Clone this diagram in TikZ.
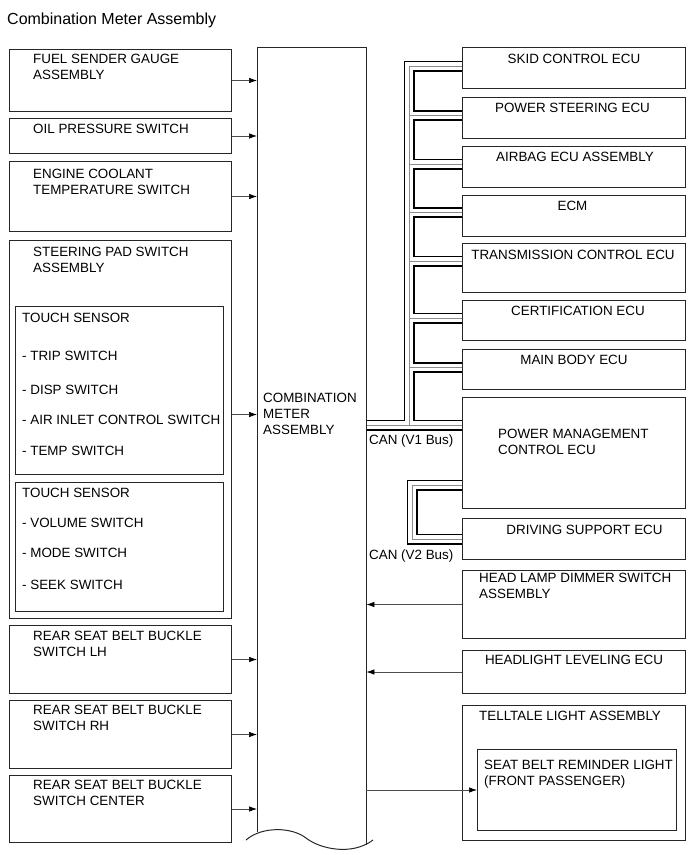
\documentclass[tikz,border=0pt]{standalone}
\usepackage{fontspec}
\setmainfont{Liberation Sans}
\usetikzlibrary{arrows.meta}
\begin{document}
\begin{tikzpicture}[x=1pt,y=-1pt,
  box/.style={draw=black!85, line width=1pt, inner sep=0pt, anchor=north west},
  lbl/.style={inner sep=0pt, align=left, font=\fontsize{13.4}{16}\selectfont, anchor=base west},
  clbl/.style={inner sep=0pt, font=\fontsize{13.4}{16}\selectfont, anchor=base},
  arr/.style={draw=black!70, line width=0.7pt, -{Latex[length=8pt,width=5.5pt,color=black]}},
  bus/.style={draw=black, line width=11pt, line join=miter,
    postaction={draw=white, line width=7.4pt},
    postaction={draw=black!45, line width=0.6pt}},
  ]
\useasboundingbox (0,0) rectangle (691,855);

\node[inner sep=0pt, anchor=base west, font=\fontsize{16}{19}\selectfont] (title) at (7,24.5) {Combination Meter Assembly};

% left boxes
\node[box, minimum width=222, minimum height=62] (fuel) at (9,49) {};
\node[box, minimum width=222, minimum height=35] (oil) at (9,118) {};
\node[box, minimum width=222, minimum height=70] (eng) at (9,161) {};
\node[box, minimum width=222, minimum height=378] (steer) at (9,240) {};
\node[box, minimum width=208, minimum height=168] (ts1) at (15,306) {};
\node[box, minimum width=208, minimum height=129] (ts2) at (15,482) {};
\node[box, minimum width=222, minimum height=68] (lh) at (9,625) {};
\node[box, minimum width=222, minimum height=68] (rh) at (9,700) {};
\node[box, minimum width=222, minimum height=67] (ctr) at (9,775) {};

% (multi-line labels: base anchor = last line)
\node[lbl] (tfuel) at (33,79.5) {FUEL SENDER GAUGE\\ASSEMBLY};
\node[lbl] (toil) at (33,133.5) {OIL PRESSURE SWITCH};
\node[lbl] (teng) at (33,194.5) {ENGINE COOLANT\\TEMPERATURE SWITCH};
\node[lbl] (tsteer) at (33,272.5) {STEERING PAD SWITCH\\ASSEMBLY};
\node[lbl] (tts1) at (22,322.5) {TOUCH SENSOR};
\node[lbl] (ttrip) at (22,360.5) {- TRIP SWITCH};
\node[lbl] (tdisp) at (22,394.5) {- DISP SWITCH};
\node[lbl] (tair) at (22,424.5) {- AIR INLET CONTROL SWITCH};
\node[lbl] (ttemp) at (22,455.5) {- TEMP SWITCH};
\node[lbl] (tts2) at (22,497.5) {TOUCH SENSOR};
\node[lbl] (tvol) at (22,527.5) {- VOLUME SWITCH};
\node[lbl] (tmode) at (22,557.5) {- MODE SWITCH};
\node[lbl] (tseek) at (22,589.5) {- SEEK SWITCH};
\node[lbl] (tlh) at (33,656.5) {REAR SEAT BELT BUCKLE\\SWITCH LH};
\node[lbl] (trh) at (33,730.5) {REAR SEAT BELT BUCKLE\\SWITCH RH};
\node[lbl] (tctr) at (33,805.5) {REAR SEAT BELT BUCKLE\\SWITCH CENTER};

% center box
\node[inner sep=0pt, minimum width=109, minimum height=785, anchor=north west] (cm) at (257,47) {};
\draw[line width=1pt, black!85] (cm.south west) -- (cm.north west) -- (cm.north east) -- ([yshift=-13pt]cm.south east);
\draw[line width=1pt, black!85] (246,840) .. controls (262,826) and (292,827) .. (306,838) .. controls (320,849) and (352,856) .. (373,840);
\node[lbl] (tcm) at (263,434.5) {COMBINATION\\METER\\ASSEMBLY};

% right boxes
\node[box, minimum width=223, minimum height=41] (skid) at (462,47) {};
\node[box, minimum width=223, minimum height=41] (ps) at (462,97) {};
\node[box, minimum width=223, minimum height=41] (air) at (462,146) {};
\node[box, minimum width=223, minimum height=41] (ecm) at (462,195) {};
\node[box, minimum width=223, minimum height=49] (tcu) at (462,243) {};
\node[box, minimum width=223, minimum height=40] (cert) at (462,300) {};
\node[box, minimum width=223, minimum height=40] (mb) at (462,349) {};
\node[box, minimum width=223, minimum height=111] (pm) at (462,397) {};
\node[box, minimum width=223, minimum height=41] (ds) at (462,518) {};
\node[box, minimum width=223, minimum height=68] (hl) at (462,570) {};
\node[box, minimum width=223, minimum height=43] (lev) at (462,650) {};
\node[box, minimum width=223, minimum height=135] (tell) at (462,705) {};
\node[box, minimum width=199, minimum height=81] (seat) at (477,749) {};

\node[clbl] (tskid) at (574,63.5) {SKID CONTROL ECU};
\node[clbl] (tps) at (572.5,112.5) {POWER STEERING ECU};
\node[clbl] (tair2) at (575,161.5) {AIRBAG ECU ASSEMBLY};
\node[clbl] (tecm) at (572.5,210.5) {ECM};
\node[clbl] (ttcu) at (573,259.5) {TRANSMISSION CONTROL ECU};
\node[clbl] (tcert) at (578,315.5) {CERTIFICATION ECU};
\node[clbl] (tmb) at (574,364.5) {MAIN BODY ECU};
\node[lbl] (tpm) at (498,454.5) {POWER MANAGEMENT\\CONTROL ECU};
\node[clbl] (tds) at (584.5,534.5) {DRIVING SUPPORT ECU};
\node[lbl] (thl) at (479,598.5) {HEAD LAMP DIMMER SWITCH\\ASSEMBLY};
\node[clbl] (tlev) at (574,664.5) {HEADLIGHT LEVELING ECU};
\node[lbl] (ttell) at (479,720.5) {TELLTALE LIGHT ASSEMBLY};
\node[lbl] (tseat) at (484,785.5) {SEAT BELT REMINDER LIGHT\\(FRONT PASSENGER)};

\node[lbl] (can1) at (369,444.5) {CAN (V1 Bus)};
\node[lbl] (can2) at (369,559.5) {CAN (V2 Bus)};

% CAN bus V1
\coordinate (b1) at ([yshift=-19pt]skid.north west);
\coordinate (b2) at ([yshift=-18.5pt]ps.north west);
\coordinate (b3) at ([yshift=-18pt]air.north west);
\coordinate (b4) at ([yshift=-17.5pt]ecm.north west);
\coordinate (b5) at ([yshift=-18pt]tcu.north west);
\coordinate (b6) at ([yshift=-18pt]cert.north west);
\coordinate (b7) at ([yshift=-18.5pt]mb.north west);
\coordinate (b8) at ([yshift=-28pt]pm.north west);
\coordinate (tr) at (409,0);
\path[bus] (b1) -| (tr |- b8)
  (b2) -- (b2 -| tr) (b3) -- (b3 -| tr) (b4) -- (b4 -| tr)
  (b5) -- (b5 -| tr) (b6) -- (b6 -| tr) (b7) -- (b7 -| tr)
  ([xshift=0.6pt]cm.east |- b8) -- (b8);

% CAN bus V2
\coordinate (c1) at ([yshift=-88pt]pm.north west);
\coordinate (c2) at ([yshift=-21pt]ds.north west);
\path[bus] (c1) -- ++(-50,0) |- (c2);

% arrows
\draw[arr] (fuel.east) -- (fuel.east -| cm.west);
\draw[arr] (oil.east) -- (oil.east -| cm.west);
\draw[arr] (eng.east) -- (eng.east -| cm.west);
\draw[arr] ([yshift=15pt]steer.east) -- ([yshift=15pt]steer.east -| cm.west);
\draw[arr] (lh.east) -- (lh.east -| cm.west);
\draw[arr] (rh.east) -- (rh.east -| cm.west);
\draw[arr] (ctr.east) -- (ctr.east -| cm.west);
\draw[arr] (hl.west) -- (hl.west -| cm.east);
\draw[arr] (lev.west) -- (lev.west -| cm.east);
\draw[arr] (seat.west -| cm.east) -- (seat.west);
\end{tikzpicture}
\end{document}
